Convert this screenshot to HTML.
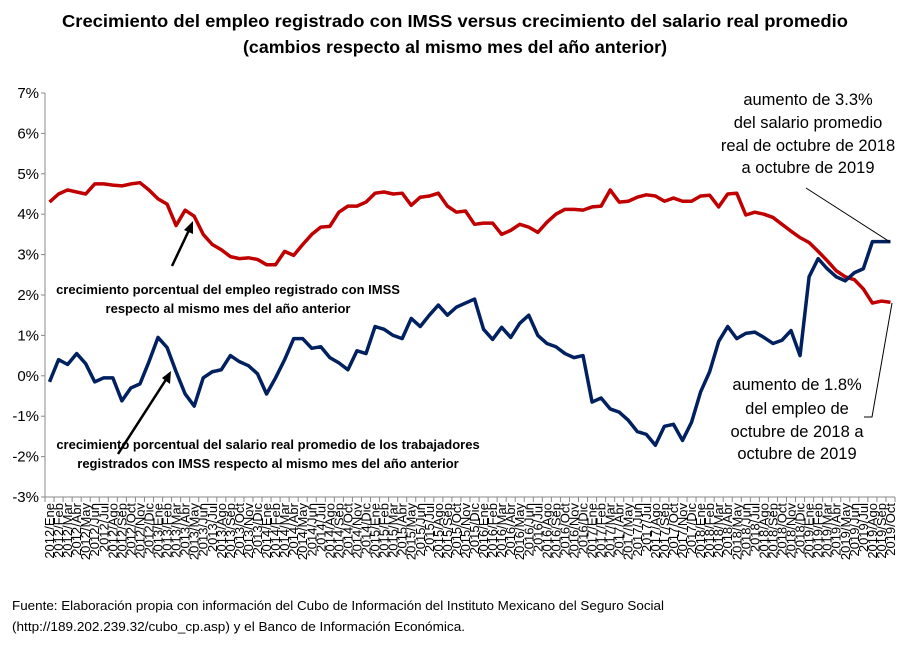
<!DOCTYPE html>
<html><head><meta charset="utf-8"><style>
body{margin:0;background:#fff;}
svg{font-family:"Liberation Sans",sans-serif;display:block}
</style></head><body>
<svg id="chart" width="909" height="660">
<text x="62" y="27" textLength="786" lengthAdjust="spacingAndGlyphs" font-size="17.5" font-weight="bold">Crecimiento del empleo registrado  con IMSS versus crecimiento del salario real promedio</text>
<text x="243" y="53" textLength="424" lengthAdjust="spacingAndGlyphs" font-size="17.5" font-weight="bold">(cambios respecto al mismo mes del año anterior)</text>
<g id="axes"></g>
<g id="series"></g>
<g font-size="13" font-weight="bold" text-anchor="middle">
<text x="228" y="294">crecimiento porcentual del empleo registrado con IMSS</text>
<text x="228" y="313">respecto al mismo mes del año anterior</text>
<text x="268" y="449">crecimiento porcentual del salario real promedio de los trabajadores</text>
<text x="268" y="468">registrados con IMSS respecto al mismo mes del año anterior</text>
</g>
<g stroke="#000" stroke-width="2.5" fill="none">
<line x1="172" y1="266" x2="190" y2="228"/>
<line x1="118" y1="454" x2="167" y2="378"/>
</g>
<polygon points="193,221 193,234 184,230" fill="#000"/>
<polygon points="171,371 170,384 162,378" fill="#000"/>
<g font-size="16.5" text-anchor="middle" fill="#000">
<text x="808" y="105">aumento de 3.3%</text>
<text x="808" y="128">del salario promedio</text>
<text x="808" y="151">real de octubre de 2018</text>
<text x="808" y="173">a octubre de 2019</text>
<text x="797" y="390">aumento de 1.8%</text>
<text x="797" y="414">del empleo de</text>
<text x="797" y="437">octubre de 2018 a</text>
<text x="797" y="459">octubre de 2019</text>
</g>
<g stroke="#000" stroke-width="1" fill="none">
<line x1="806" y1="188" x2="890" y2="242"/>
<polyline points="864,417 872,417 892,303"/>
</g>
<text x="12" y="610" textLength="652" lengthAdjust="spacingAndGlyphs" font-size="12.5">Fuente: Elaboración propia con información del Cubo de Información del Instituto Mexicano del Seguro Social</text>
<text x="12" y="631" textLength="453" lengthAdjust="spacingAndGlyphs" font-size="12.5">(http://189.202.239.32/cubo_cp.asp) y el Banco de Información Económica.</text>
</svg>
<script>
const months=["Ene","Feb","Mar","Abr","May","Jun","Jul","Ago","Sep","Oct","Nov","Dic"];
const categories=[];
for(let y=2012;y<=2019;y++)for(let m=0;m<12;m++){if(y===2019&&m>9)break;categories.push(y+"/"+months[m]);}
const employment=[4.3,4.5,4.6,4.55,4.5,4.75,4.75,4.72,4.7,4.75,4.78,4.6,4.38,4.25,3.72,4.1,3.95,3.5,3.25,3.12,2.95,2.9,2.92,2.88,2.75,2.75,3.08,2.98,3.25,3.5,3.68,3.7,4.05,4.2,4.2,4.3,4.52,4.55,4.5,4.52,4.22,4.42,4.45,4.52,4.2,4.05,4.08,3.75,3.78,3.78,3.5,3.6,3.75,3.68,3.55,3.8,4.0,4.12,4.12,4.1,4.18,4.2,4.6,4.3,4.32,4.42,4.48,4.45,4.32,4.4,4.32,4.32,4.45,4.47,4.18,4.5,4.52,3.98,4.05,4.0,3.92,3.75,3.58,3.42,3.3,3.08,2.85,2.6,2.45,2.38,2.15,1.8,1.85,1.82];
const wages=[-0.15,0.4,0.28,0.55,0.3,-0.15,-0.05,-0.05,-0.62,-0.3,-0.2,0.35,0.95,0.7,0.1,-0.45,-0.75,-0.05,0.1,0.15,0.5,0.35,0.25,0.05,-0.45,-0.05,0.4,0.92,0.92,0.68,0.72,0.45,0.32,0.15,0.62,0.55,1.22,1.15,1.0,0.92,1.42,1.22,1.5,1.75,1.5,1.7,1.8,1.9,1.15,0.9,1.2,0.95,1.3,1.5,1.0,0.8,0.72,0.55,0.45,0.5,-0.65,-0.55,-0.82,-0.9,-1.1,-1.38,-1.45,-1.72,-1.25,-1.2,-1.6,-1.15,-0.4,0.1,0.85,1.22,0.92,1.05,1.08,0.95,0.8,0.88,1.12,0.5,2.45,2.9,2.65,2.45,2.35,2.55,2.65,3.32,3.32,3.32];
const yTicks=[7,6,5,4,3,2,1,0,-1,-2,-3];
const NS="http://www.w3.org/2000/svg";
const L=45,R=895,T=93,B=497;
const n=categories.length;
const step=(R-L)/n;
function xs(i){return L+step*(i+0.5);}
function ys(v){return T+(7-v)*(B-T)/10;}
function mk(tag,attrs,parent){const e=document.createElementNS(NS,tag);for(const k in attrs)e.setAttribute(k,attrs[k]);parent.appendChild(e);return e;}
const ax=document.getElementById('axes');
mk('line',{x1:L,y1:T,x2:L,y2:B,stroke:'#888'},ax);
mk('line',{x1:L,y1:B,x2:R,y2:B,stroke:'#888'},ax);
yTicks.forEach(t=>{
 mk('line',{x1:L-4,y1:ys(t),x2:L,y2:ys(t),stroke:'#888'},ax);
 const tx=mk('text',{x:L-6,y:ys(t)+5,'text-anchor':'end','font-size':'15'},ax);
 tx.textContent=t+"%";
 
 
});
categories.forEach((c,i)=>{
 const x=L+step*i;
 mk('line',{x1:x,y1:B,x2:x,y2:B+5,stroke:'#888'},ax);
 const tx=mk('text',{x:0,y:0,'text-anchor':'end','font-size':'13',transform:`translate(${xs(i)+4.5},${B+6}) rotate(-90)`},ax);
 tx.textContent=c;
 
 
});
mk('line',{x1:R,y1:B,x2:R,y2:B+5,stroke:'#888'},ax);
const sg=document.getElementById('series');
const p1=mk('polyline',{points:employment.map((v,i)=>xs(i)+','+ys(v)).join(' '),fill:'none',stroke:'#c00000','stroke-width':3.5,'stroke-linejoin':'round'},sg);


const p2=mk('polyline',{points:wages.map((v,i)=>xs(i)+','+ys(v)).join(' '),fill:'none',stroke:'#002060','stroke-width':3.5,'stroke-linejoin':'round'},sg);


</script>
</body></html>
